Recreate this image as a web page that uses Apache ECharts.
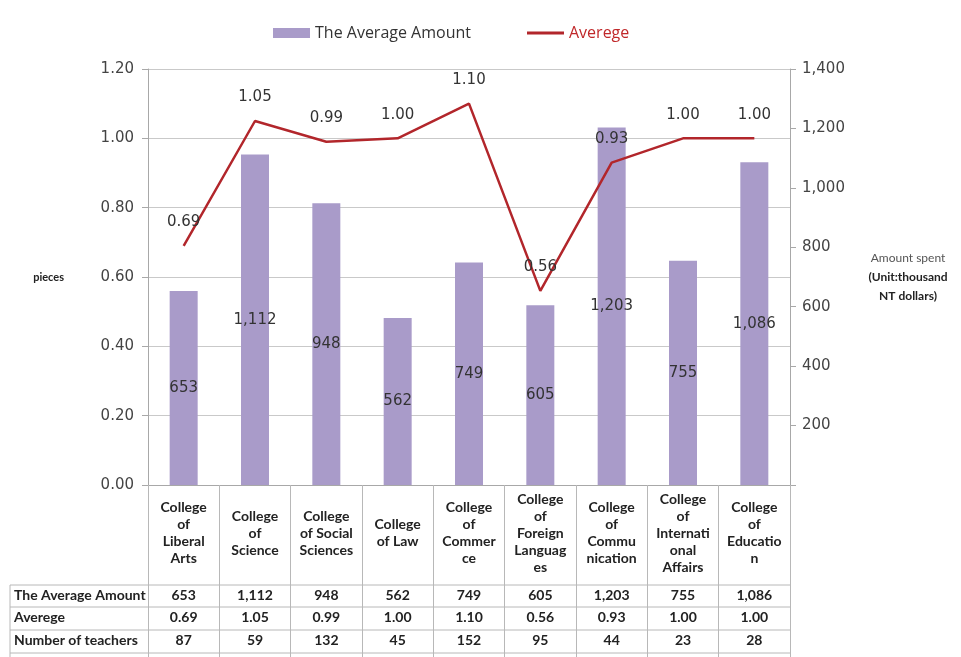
<!DOCTYPE html>
<html>
<head>
<meta charset="utf-8">
<script src="https://cdn.jsdelivr.net/npm/echarts@6/dist/echarts.min.js"></script>
<style>
  html, body { margin: 0; padding: 0; background: #fff; }
  #main { width: 961px; height: 657px; }
</style>
</head>
<body>
<div id="main"></div>
<script>
// colleges, wrapped the way they appear in the table header
const categories = [
  'College\nof\nLiberal\nArts',
  'College\nof\nScience',
  'College\nof Social\nSciences',
  'College\nof Law',
  'College\nof\nCommer\nce',
  'College\nof\nForeign\nLanguag\nes',
  'College\nof\nCommu\nnication',
  'College\nof\nInternati\nonal\nAffairs',
  'College\nof\nEducatio\nn'
];
const averageAmount = [653, 1112, 948, 562, 749, 605, 1203, 755, 1086];
const averege = [0.69, 1.05, 0.99, 1.00, 1.10, 0.56, 0.93, 1.00, 1.00];
const teachers = [87, 59, 132, 45, 152, 95, 44, 23, 28];
const rowNames = ['The Average Amount', 'Averege', 'Number of teachers'];

const fmtK = v => Number(v).toLocaleString('en-US');
const gridColor = '#c9c9c9';
const tableColor = '#b8b8b8';
const tableFont = { fontFamily: 'Lato', fontWeight: 'bold', fontSize: 14, color: '#222' };

// one extra category axis per table row, so the cells line up with the columns
function tableRow(values, offset) {
  return {
    type: 'category',
    position: 'bottom',
    offset: offset,
    data: values,
    axisLine: { show: false },
    axisTick: { show: false },
    axisLabel: Object.assign({ interval: 0, margin: 0, verticalAlign: 'top' }, tableFont)
  };
}

const chart = echarts.init(document.getElementById('main'));
const option = {
  animation: false,
  textStyle: { fontFamily: 'DejaVu Sans' },
  legend: {
    left: 268,
    top: 20,
    itemWidth: 37,
    itemHeight: 10,
    itemGap: 56,
    textStyle: { fontFamily: 'Open Sans', fontSize: 16, color: '#333' },
    data: [
      { name: 'The Average Amount', icon: 'rect' },
      { name: 'Averege', icon: 'path://M0 0H40V3H0Z', textStyle: { color: '#c0282a' } }
    ]
  },
  grid: { left: 148, right: 171, top: 69, bottom: 172 },
  xAxis: [
    {
      type: 'category',
      data: categories,
      axisLine: { lineStyle: { color: '#a8a8a8' } },
      axisTick: { show: true, interval: 0, length: 175, lineStyle: { color: tableColor } },
      axisLabel: Object.assign({ interval: 0, margin: 48, verticalAlign: 'middle', lineHeight: 17, align: 'center' }, tableFont)
    },
    tableRow(averageAmount.map(fmtK), 103),
    tableRow(averege.map(v => v.toFixed(2)), 125),
    tableRow(teachers.map(String), 148)
  ],
  yAxis: [
    {
      type: 'value',
      min: 0,
      max: 1.2,
      interval: 0.2,
      name: 'pieces',
      nameLocation: 'middle',
      nameRotate: 0,
      nameGap: 84,
      nameTextStyle: { fontFamily: 'Lato', fontWeight: 'bold', fontSize: 11, color: '#222' },
      axisLine: { show: true, lineStyle: { color: '#a8a8a8' } },
      axisTick: { show: true, length: 6, lineStyle: { color: '#a8a8a8' } },
      axisLabel: { margin: 14, fontSize: 15, color: '#444', formatter: v => v.toFixed(2) },
      splitLine: { show: true, lineStyle: { color: gridColor } }
    },
    {
      type: 'value',
      min: 0,
      max: 1400,
      interval: 200,
      position: 'right',
      name: '{a|Amount spent}\n{b|(Unit:thousand}\n{b|NT dollars)}',
      nameLocation: 'middle',
      nameRotate: 0,
      nameGap: 118,
      nameTextStyle: {
        align: 'center',
        rich: {
          a: { fontFamily: 'Lato', fontSize: 12, color: '#555', lineHeight: 19 },
          b: { fontFamily: 'Lato', fontWeight: 'bold', fontSize: 12, color: '#222', lineHeight: 19 }
        }
      },
      axisLine: { show: true, lineStyle: { color: '#a8a8a8' } },
      axisTick: { show: true, length: 6, lineStyle: { color: '#a8a8a8' } },
      axisLabel: { margin: 12, fontSize: 15, color: '#444', formatter: v => (v === 0 ? '' : fmtK(v)) },
      splitLine: { show: false }
    }
  ],
  series: [
    {
      name: 'The Average Amount',
      type: 'bar',
      yAxisIndex: 1,
      barWidth: 28,
      data: averageAmount,
      itemStyle: { color: '#a99bc9' },
      label: {
        show: true,
        position: 'inside',
        fontSize: 15,
        color: '#333',
        formatter: p => fmtK(p.value)
      }
    },
    {
      name: 'Averege',
      type: 'line',
      yAxisIndex: 0,
      data: averege,
      symbol: 'circle',
      symbolSize: 0,
      showSymbol: true,
      lineStyle: { color: '#b2262b', width: 2.5 },
      itemStyle: { color: '#b2262b' },
      label: {
        show: true,
        position: 'top',
        distance: 16,
        fontSize: 15,
        color: '#333',
        formatter: p => p.value.toFixed(2)
      }
    }
  ],
  graphic: [
    // row header block on the left of the data table
    { type: 'line', shape: { x1: 10, y1: 585, x2: 790, y2: 585 }, style: { stroke: tableColor, lineWidth: 1 } },
    { type: 'line', shape: { x1: 10, y1: 607, x2: 790, y2: 607 }, style: { stroke: tableColor, lineWidth: 1 } },
    { type: 'line', shape: { x1: 10, y1: 630, x2: 790, y2: 630 }, style: { stroke: tableColor, lineWidth: 1 } },
    { type: 'line', shape: { x1: 10, y1: 653, x2: 790, y2: 653 }, style: { stroke: tableColor, lineWidth: 1 } },
    { type: 'line', shape: { x1: 10, y1: 585, x2: 10, y2: 657 }, style: { stroke: tableColor, lineWidth: 1 } },
    { type: 'text', left: 14, top: 588, style: { text: rowNames[0], fill: '#222', font: 'bold 14px Lato' } },
    { type: 'text', left: 14, top: 610, style: { text: rowNames[1], fill: '#222', font: 'bold 14px Lato' } },
    { type: 'text', left: 14, top: 633, style: { text: rowNames[2], fill: '#222', font: 'bold 14px Lato' } }
  ]
};
chart.setOption(option);
</script>
</body>
</html>
